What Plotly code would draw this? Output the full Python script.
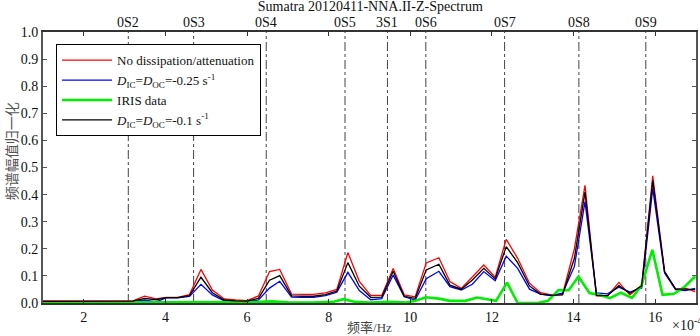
import plotly.graph_objects as go

# model frequency grid (x 1e-4 Hz)
freq = [1.00, 1.60, 2.20, 2.80, 3.20, 3.49, 3.77, 4.02, 4.30, 4.59, 4.87, 5.15, 5.44, 5.72, 6.00,
        6.28, 6.55, 6.80, 7.09, 7.37, 7.63, 7.92, 8.20, 8.47, 8.75, 9.03, 9.30, 9.58,
        9.85, 10.12, 10.39, 10.70, 10.97, 11.25, 11.52, 11.80, 12.08, 12.35, 12.63,
        12.92, 13.19, 13.45, 13.73, 14.02, 14.28, 14.56, 14.83, 15.11, 15.38, 15.67,
        15.94, 16.23, 16.50, 16.74, 16.98]
no_dissipation = [0.008, 0.008, 0.008, 0.008, 0.008, 0.025, 0.015, 0.021, 0.021, 0.031, 0.124, 0.048, 0.015, 0.011, 0.009,
                  0.026, 0.116, 0.124, 0.033, 0.032, 0.032, 0.037, 0.050, 0.186, 0.080, 0.028, 0.028, 0.127,
                  0.030, 0.023, 0.148, 0.167, 0.079, 0.054, 0.095, 0.140, 0.095, 0.235, 0.165,
                  0.073, 0.038, 0.030, 0.032, 0.200, 0.434, 0.026, 0.025, 0.076, 0.030, 0.066,
                  0.469, 0.116, 0.051, 0.054, 0.042]
d_025 = [0.005, 0.005, 0.005, 0.005, 0.005, 0.011, 0.004, 0.019, 0.019, 0.024, 0.069, 0.030, 0.008, 0.005, 0.004,
         0.011, 0.055, 0.080, 0.022, 0.021, 0.021, 0.027, 0.040, 0.113, 0.046, 0.012, 0.016, 0.103,
         0.023, 0.011, 0.090, 0.117, 0.060, 0.048, 0.069, 0.116, 0.082, 0.173, 0.128,
         0.051, 0.033, 0.027, 0.036, 0.135, 0.374, 0.037, 0.034, 0.058, 0.040, 0.055,
         0.423, 0.111, 0.049, 0.046, 0.054]
d_01 = [0.006, 0.006, 0.006, 0.006, 0.007, 0.017, 0.012, 0.020, 0.020, 0.027, 0.095, 0.038, 0.011, 0.008, 0.007,
        0.017, 0.084, 0.101, 0.026, 0.025, 0.025, 0.031, 0.044, 0.149, 0.062, 0.021, 0.022, 0.117,
        0.024, 0.017, 0.122, 0.143, 0.066, 0.051, 0.085, 0.128, 0.089, 0.208, 0.149,
        0.063, 0.033, 0.028, 0.030, 0.165, 0.409, 0.028, 0.027, 0.064, 0.036, 0.063,
        0.452, 0.116, 0.051, 0.051, 0.049]

# IRIS data
iris_freq = [1.00, 3.00, 5.00, 6.30, 6.60, 7.00, 7.60, 8.10, 8.36, 8.65, 9.00, 9.50, 9.90,
             10.12, 10.38, 10.70, 10.97, 11.35, 11.63, 11.90, 12.10, 12.37, 12.63, 12.90,
             13.15, 13.37, 13.63, 13.88, 14.12, 14.39, 14.63, 14.89, 15.16, 15.43, 15.66,
             15.93, 16.18, 16.46, 16.72, 16.98]
iris = [0.002, 0.002, 0.002, 0.004, 0.006, 0.003, 0.002, 0.004, 0.014, 0.004, 0.002, 0.004, 0.002,
        0.008, 0.021, 0.016, 0.008, 0.008, 0.020, 0.012, 0.008, 0.075, 0.000, 0.000,
        0.001, 0.008, 0.048, 0.047, 0.098, 0.037, 0.030, 0.018, 0.038, 0.019, 0.063,
        0.196, 0.030, 0.034, 0.060, 0.098]

modes = ["0S2", "0S3", "0S4", "0S5", "3S1", "0S6", "0S7", "0S8", "0S9"]
mode_freq = [3.09, 4.69, 6.47, 8.40, 9.44, 10.38, 12.31, 14.13, 15.77]

SERIF = "Liberation Serif"
CJK = "Noto Sans CJK SC"

fig = go.Figure()
fig.add_trace(go.Scatter(x=freq, y=no_dissipation, mode="lines", name="No dissipation/attenuation",
                         line=dict(color="#ff0000", width=1.3)))
fig.add_trace(go.Scatter(x=freq, y=d_025, mode="lines",
                         name="<i>D</i><sub>IC</sub>=<i>D</i><sub>OC</sub>=-0.25 s<sup>-1</sup>",
                         line=dict(color="#0000ff", width=1.3)))
fig.add_trace(go.Scatter(x=iris_freq, y=iris, mode="lines", name="IRIS data",
                         line=dict(color="#00ee00", width=2.6)))
fig.add_trace(go.Scatter(x=freq, y=d_01, mode="lines",
                         name="<i>D</i><sub>IC</sub>=<i>D</i><sub>OC</sub>=-0.1 s<sup>-1</sup>",
                         line=dict(color="#000000", width=1.3)))

for f, lab in zip(mode_freq, modes):
    fig.add_shape(type="line", x0=f, x1=f, xref="x", y0=0, y1=1, yref="paper",
                  line=dict(color="#444444", width=1, dash="dashdot"), layer="below")
    fig.add_annotation(x=f, y=1, xref="x", yref="paper", text=lab, showarrow=False,
                       yanchor="bottom", yshift=0, font=dict(family=SERIF, size=14, color="#111"))

# exponent note, x-axis and y-axis labels
fig.add_annotation(x=1, y=0, xref="paper", yref="paper", xanchor="left", yanchor="top",
                   xshift=-26, yshift=-10, text="×10<sup>-4</sup>", showarrow=False,
                   font=dict(family=SERIF, size=14, color="#111"))
fig.add_annotation(x=0.5, y=0, xref="paper", yref="paper", xanchor="center", yanchor="top",
                   yshift=-12, text="频率<span style='font-family:Liberation Serif'>/Hz</span>",
                   showarrow=False, font=dict(family=CJK, size=13, color="#444"))
fig.add_annotation(x=0, y=0.56, xref="paper", yref="paper", xanchor="center", yanchor="middle",
                   xshift=-32, textangle=-90, text="频谱幅值归一化", showarrow=False,
                   font=dict(family=CJK, size=14, color="#555"))

fig.update_layout(
    width=700, height=336,
    margin=dict(l=43, r=2, t=32, b=33),
    paper_bgcolor="white", plot_bgcolor="white",
    title=dict(text="Sumatra 20120411-NNA.II-Z-Spectrum", x=0.529, xanchor="center",
               y=1, yanchor="top", pad=dict(t=1), font=dict(family=SERIF, size=14, color="#111")),
    showlegend=True,
    legend=dict(x=0.02, y=0.955, xanchor="left", yanchor="top", bgcolor="white",
                bordercolor="#000", borderwidth=1, font=dict(family=SERIF, size=13, color="#111"),
                tracegroupgap=0, itemwidth=50),
    xaxis=dict(range=[1, 17], tickvals=[2, 4, 6, 8, 10, 12, 14, 16], ticks="inside", ticklen=4,
               showgrid=False, zeroline=False, showline=True, linecolor="#333", linewidth=1.5,
               mirror="allticks", tickcolor="#333",
               tickfont=dict(family=SERIF, size=14, color="#111")),
    yaxis=dict(range=[0, 1], dtick=0.1, tickformat=".1f", ticks="inside", ticklen=4,
               showgrid=False, zeroline=False, showline=True, linecolor="#555", linewidth=2,
               mirror="allticks", tickcolor="#555",
               tickfont=dict(family=SERIF, size=14, color="#111")),
)

fig.write_html("out.html", config={"displayModeBar": False},
               post_script="document.body.style.margin='0';")
